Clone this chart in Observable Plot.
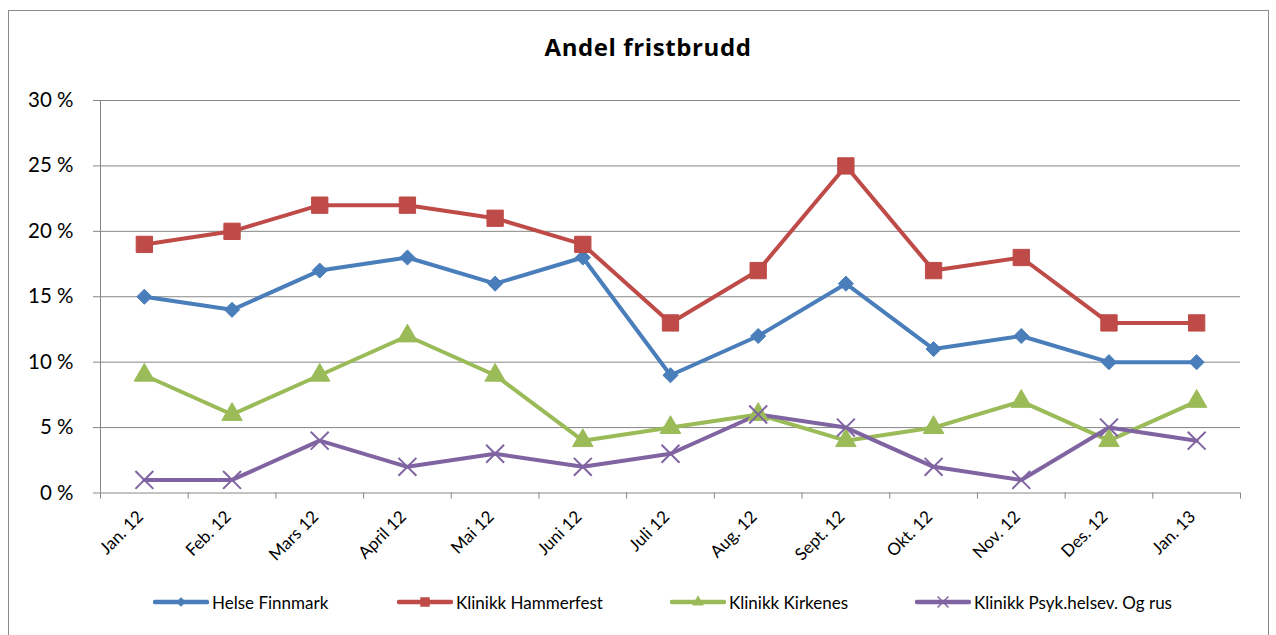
<!DOCTYPE html>
<html>
<head>
<meta charset="utf-8">
<script src="https://cdn.jsdelivr.net/npm/d3@7"></script>
<script src="https://cdn.jsdelivr.net/npm/@observablehq/plot@0.6"></script>
<style>
  html, body { margin: 0; padding: 0; background: #fff; overflow: hidden; }
  body { width: 1276px; height: 635px; position: relative; font-family: Lato, "Open Sans", sans-serif; }
  #frame { position: absolute; left: 8px; top: 10px; width: 1261px; height: 640px; border: 1.5px solid #8a8a8a; box-sizing: border-box; }
  #title { position: absolute; left: 0; width: 1296px; top: 30px; text-align: center; font-weight: bold; font-size: 24px; letter-spacing: 0.6px; color: #000; font-family: "Open Sans", Lato, sans-serif; }
  #chart { position: absolute; left: 0; top: 0; }
  #legend { position: absolute; left: 0; top: 590px; width: 1276px; height: 24px; }
  .item { position: absolute; top: 0; height: 24px; display: flex; align-items: center; font-size: 17px; color: #000; }
  .item svg { margin-right: 3px; }
</style>
</head>
<body>
<div id="frame"></div>
<div id="title">Andel fristbrudd</div>
<div id="chart"></div>
<div id="legend"></div>
<script>
const months = ["Jan. 12", "Feb. 12", "Mars 12", "April 12", "Mai 12", "Juni 12", "Juli 12", "Aug. 12", "Sept. 12", "Okt. 12", "Nov. 12", "Des. 12", "Jan. 13"];
const seriesNames = ["Helse Finnmark", "Klinikk Hammerfest", "Klinikk Kirkenes", "Klinikk Psyk.helsev. Og rus"];
const helseFinnmark = [15, 14, 17, 18, 16, 18, 9, 12, 16, 11, 12, 10, 10];
const klinikkHammerfest = [19, 20, 22, 22, 21, 19, 13, 17, 25, 17, 18, 13, 13];
const klinikkKirkenes = [9, 6, 9, 12, 9, 4, 5, 6, 4, 5, 7, 4, 7];
const klinikkPsyk = [1, 1, 4, 2, 3, 2, 3, 6, 5, 2, 1, 5, 4];
const yTicks = [0, 5, 10, 15, 20, 25, 30];

const colors = ["#4a7ebb", "#be4b48", "#9bbb59", "#8064a2"];
const symbols = ["diamond2", "square", "triangle", "times"];
const radii = [6.8, 9.2, 7.6, 8.2];
const allValues = [helseFinnmark, klinikkHammerfest, klinikkKirkenes, klinikkPsyk];

const data = [];
allValues.forEach((vals, s) => vals.forEach((v, i) => data.push({series: seriesNames[s], s, i, x: i + 0.5, v})));

const gray = "#868686";
const font = "Lato, 'Open Sans', sans-serif";

const marks = [
  Plot.ruleY(yTicks, {stroke: gray, strokeWidth: 1, strokeOpacity: 1}),
  Plot.axisY(yTicks, {tickSize: 7, tickPadding: 20, tickFormat: d => d + " %", fontSize: 20.5, stroke: gray, strokeOpacity: 1, fill: "#000", label: null}),
  Plot.ruleX([0], {stroke: gray, strokeWidth: 1}),
  Plot.axisX(d3.range(0, 14), {tickSize: 6, tickFormat: () => "", stroke: gray, strokeOpacity: 1, label: null}),
  Plot.axisX(d3.range(13).map(i => i + 0.5), {tickSize: 0, tickPadding: 21, dx: -4, tickRotate: -45, tickFormat: d => months[Math.round(d - 0.5)], fontSize: 17, fill: "#000", label: null})
];
seriesNames.forEach((name, s) => {
  const d = data.filter(e => e.s === s);
  marks.push(Plot.line(d, {x: "x", y: "v", stroke: colors[s], strokeWidth: 4, strokeLinejoin: "round", strokeLinecap: "round"}));
});
seriesNames.forEach((name, s) => {
  const d = data.filter(e => e.s === s);
  if (symbols[s] === "times") {
    marks.push(Plot.dot(d, {x: "x", y: "v", symbol: "times", r: radii[s], stroke: colors[s], strokeWidth: 2, fill: "none"}));
  } else {
    marks.push(Plot.dot(d, {x: "x", y: "v", symbol: symbols[s], r: radii[s], fill: colors[s], stroke: colors[s], strokeWidth: 1}));
  }
});

const chart = Plot.plot({
  width: 1276,
  height: 580,
  marginLeft: 100,
  marginRight: 36,
  marginTop: 100,
  marginBottom: 87.5,
  style: {fontFamily: font, background: "transparent", overflow: "visible"},
  x: {type: "linear", domain: [0, 13], axis: null},
  y: {domain: [0, 30], axis: null},
  marks
});
document.getElementById("chart").appendChild(chart);

// legend
const legendX = [153, 397, 670, 915];
const legend = document.getElementById("legend");
seriesNames.forEach((name, s) => {
  const div = document.createElement("div");
  div.className = "item";
  div.style.left = legendX[s] + "px";
  const sw = d3.create("svg").attr("width", 56).attr("height", 20);
  sw.append("line").attr("x1", 2).attr("x2", 54).attr("y1", 10).attr("y2", 10)
    .attr("stroke", colors[s]).attr("stroke-width", 4.5).attr("stroke-linecap", "round");
  const symMap = {diamond2: d3.symbolDiamond2, square: d3.symbolSquare, triangle: d3.symbolTriangle, times: d3.symbolTimes};
  const size = [60, 90, 60, 80][s];
  const p = sw.append("path").attr("d", d3.symbol(symMap[symbols[s]], size)()).attr("transform", "translate(28,10)");
  if (symbols[s] === "times") p.attr("stroke", colors[s]).attr("stroke-width", 1.5).attr("fill", "none");
  else p.attr("fill", colors[s]);
  div.appendChild(sw.node());
  const t = document.createElement("span");
  t.textContent = name;
  div.appendChild(t);
  legend.appendChild(div);
});
</script>
</body>
</html>
